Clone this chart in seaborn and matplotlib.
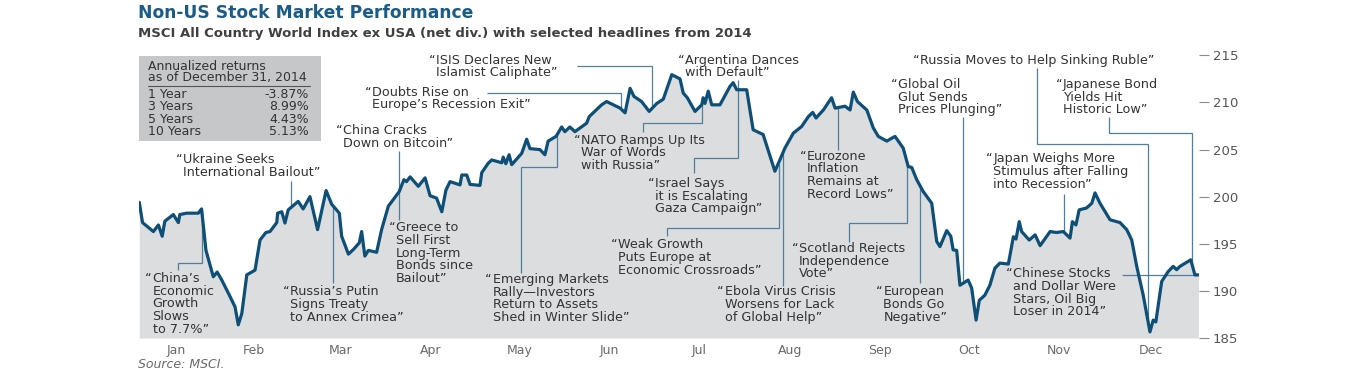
import matplotlib
matplotlib.use('Agg')
import matplotlib.pyplot as plt
from matplotlib.patches import Rectangle
from matplotlib.lines import Line2D
import seaborn as sns

sns.set_theme(style='white')
plt.rcParams['font.family'] = ['DejaVu Sans']

# MSCI ACWI ex USA (net div.); x = day of year (Jan 1 = 0)
days = [5.9, 7.0, 10.7, 12.4, 13.7, 14.6, 17.5, 19.2, 19.7, 22.0, 26.0, 27.1,
        28.6, 31.1, 32.4, 33.9, 36.8, 38.5, 39.6, 40.8, 42.5, 45.3, 47.0, 49.0,
        50.4, 52.7, 53.0, 54.4, 55.5, 56.6, 60.0, 61.7, 64.0, 66.6, 69.5, 71.4,
        74.0, 74.8, 77.1, 78.8, 80.8, 81.6, 82.7, 83.9, 86.7, 88.4, 90.7, 92.4,
        94.4, 96.0, 96.9, 98.1, 100.9, 103.2, 104.9, 107.1, 108.9, 110.3, 111.7,
        115.1, 115.7, 117.4, 118.5, 121.9, 122.5, 124.7, 125.9, 129.3, 129.8,
        130.7, 131.8, 132.7, 136.1, 137.8, 138.9, 142.3, 144.0, 145.1, 147.8,
        149.7, 150.8, 152.5, 154.2, 158.2, 159.1, 163.3, 165.0, 167.3, 169.6,
        171.3, 173.0, 174.3, 176.9, 179.5, 182.1, 184.3, 187.2, 190.0, 191.1,
        192.5, 195.1, 197.4, 197.9, 198.5, 199.6, 200.8, 203.6, 207.0, 208.1,
        209.3, 212.7, 214.9, 218.3, 222.3, 224.0, 225.7, 228.6, 231.4, 233.7,
        235.2, 236.3, 238.8, 241.6, 242.8, 246.2, 247.9, 249.0, 250.4, 253.6,
        255.8, 257.5, 260.4, 263.2, 266.0, 267.7, 268.9, 270.6, 272.8, 275.7,
        277.4, 278.5, 280.8, 282.2, 283.0, 284.2, 285.3, 288.1, 289.3, 290.8,
        291.9, 293.8, 295.5, 297.2, 298.9, 301.8, 303.5, 304.4, 305.5, 306.3,
        308.9, 310.9, 312.6, 316.0, 318.2, 320.5, 322.8, 323.6, 324.8, 325.9,
        328.4, 330.2, 331.3, 333.0, 336.4, 339.8, 342.1, 343.8, 345.5, 347.7,
        350.0, 351.1, 352.0, 354.0, 356.2, 357.9, 359.1, 360.2, 363.9, 365.3,
        366.5]
index_level = [199.4, 197.25, 196.3, 197.0, 195.8, 197.4, 198.1, 197.25, 198.1,
               198.25, 198.25, 198.7, 194.3, 191.5, 192.0, 191.2, 189.4, 188.3,
               186.4, 187.6, 191.7, 192.2, 195.4, 196.2, 196.3, 197.25, 198.25,
               198.4, 197.2, 198.6, 199.5, 198.7, 200.0, 196.5, 200.65, 199.2,
               198.25, 195.8, 193.9, 194.4, 195.1, 196.3, 193.7, 194.3, 194.1,
               196.5, 199.0, 199.7, 200.55, 201.8, 201.6, 202.1, 201.1, 202.0,
               200.1, 199.85, 198.4, 200.7, 201.6, 201.25, 202.3, 202.3, 201.3,
               201.2, 202.55, 203.55, 203.9, 203.6, 204.2, 203.5, 204.45, 203.4,
               204.6, 206.1, 205.1, 205.0, 204.45, 205.9, 206.4, 207.4, 206.9,
               207.4, 206.9, 207.8, 208.5, 209.75, 210.1, 209.75, 209.4, 208.9,
               211.5, 210.65, 210.1, 209.05, 209.9, 210.35, 212.95, 212.5, 211.0,
               210.5, 209.05, 209.75, 210.5, 209.9, 211.2, 209.75, 209.75, 211.7,
               212.1, 211.35, 211.35, 207.1, 206.6, 202.7, 203.9, 205.15, 206.75,
               207.45, 208.5, 208.95, 208.35, 209.2, 210.5, 209.4, 209.6, 209.2,
               211.1, 210.1, 209.2, 207.3, 206.4, 205.9, 206.4, 205.15, 203.2,
               203.1, 201.8, 200.55, 199.3, 195.25, 194.7, 196.4, 195.8, 194.35,
               194.3, 190.6, 191.15, 190.3, 186.9, 189.0, 189.55, 190.6, 192.4,
               192.95, 192.85, 195.75, 195.5, 197.35, 196.3, 195.4, 195.95, 194.8,
               196.3, 196.2, 196.3, 195.6, 197.35, 197.0, 198.6, 198.8, 199.3,
               200.4, 199.3, 197.55, 197.25, 196.5, 195.4, 192.6, 189.55, 185.65,
               186.9, 186.7, 191.0, 192.05, 192.6, 192.25, 192.6, 193.3, 191.7,
               191.7]

months = ['Jan', 'Feb', 'Mar', 'Apr', 'May', 'Jun',
          'Jul', 'Aug', 'Sep', 'Oct', 'Nov', 'Dec']
month_starts = [31, 59, 90, 120, 151, 181, 212, 243, 273, 304, 334]
y_ticks = [185, 190, 195, 200, 205, 210, 215]

return_periods = ['1 Year', '3 Years', '5 Years', '10 Years']
return_values = ['-3.87%', '8.99%', '4.43%', '5.13%']

# headline text, position of first line (day, level), leader line path
headlines = [
    (['Ukraine Seeks', 'International Bailout”'], (20.9, 203.9),
     [(57.5, 201.7), (57.5, 198.8)]),
    (['China’s', 'Economic', 'Growth', 'Slows', 'to 7.7%”'], (10.4, 191.3),
     [(19.0, 192.2), (19.0, 193.0), (27.1, 193.0), (27.1, 198.6)]),
    (['Russia’s Putin', 'Signs Treaty', 'to Annex Crimea”'], (57.2, 189.9),
     [(71.9, 190.8), (71.9, 199.0)]),
    (['China Cracks', 'Down on Bitcoin”'], (75.2, 207.0),
     [(94.4, 204.8), (94.4, 197.5)]),
    (['Greece to', 'Sell First', 'Long-Term', 'Bonds since', 'Bailout”'], (93.2, 196.7), []),
    (['ISIS Declares New', 'Islamist Caliphate”'], (106.9, 214.5),
     [(154.8, 213.9), (180.4, 213.9), (180.4, 209.3)]),
    (['Doubts Rise on', 'Europe’s Recession Exit”'], (85.1, 211.1),
     [(124.2, 211.0), (169.8, 211.0), (169.8, 209.4)]),
    (['NATO Ramps Up Its', 'War of Words', 'with Russia”'], (156.3, 206.0),
     [(177.3, 206.9), (177.3, 207.8), (197.6, 207.8), (197.6, 210.0)]),
    (['Argentina Dances', 'with Default”'], (191.6, 214.5),
     [(209.8, 212.4), (209.8, 204.1), (194.9, 204.1), (194.9, 202.5)]),
    (['Israel Says', 'it is Escalating', 'Gaza Campaign”'], (181.5, 201.4), []),
    (['Weak Growth', 'Puts Europe at', 'Economic Crossroads”'], (169.0, 194.9),
     [(185.5, 195.8), (185.5, 196.7), (223.8, 196.7), (223.8, 203.5)]),
    (['Emerging Markets', 'Rally—Investors', 'Return to Assets', 'Shed in Winter Slide”'],
     (126.2, 191.2), [(135.7, 191.9), (135.7, 203.2), (148.2, 203.2), (148.2, 206.6)]),
    (['Ebola Virus Crisis', 'Worsens for Lack', 'of Global Help”'], (205.2, 189.9),
     [(225.2, 190.5), (225.2, 205.0)]),
    (['Eurozone', 'Inflation', 'Remains at', 'Record Lows”'], (233.2, 204.3),
     [(243.9, 205.0), (243.9, 209.4)]),
    (['Scotland Rejects', 'Independence', 'Vote”'], (230.5, 194.5),
     [(247.6, 195.2), (247.6, 197.25), (267.2, 197.25), (267.2, 203.7)]),
    (['European', 'Bonds Go', 'Negative”'], (259.2, 189.9),
     [(271.7, 190.8), (271.7, 201.2)]),
    (['Global Oil', 'Glut Sends', 'Prices Plunging”'], (264.2, 211.9),
     [(286.4, 208.45), (286.4, 190.7)]),
    (['Russia Moves to Help Sinking Ruble”'], (271.7, 214.5),
     [(311.6, 213.7), (311.6, 205.6), (349.4, 205.6), (349.4, 186.6)]),
    (['Japanese Bond', 'Yields Hit', 'Historic Low”'], (320.4, 211.9),
     [(336.2, 208.45), (336.2, 206.75), (364.2, 206.75), (364.2, 193.0)]),
    (['Japan Weighs More', 'Stimulus after Falling', 'into Recession”'], (296.7, 204.0),
     [(320.8, 200.3), (320.8, 196.2)]),
    (['Chinese Stocks', 'and Dollar Were', 'Stars, Oil Big', 'Loser in 2014”'],
     (303.3, 191.8), [(340.4, 191.7), (366.5, 191.7)]),
]

line_color = '#0e4f77'
leader_color = '#4f7f9c'
fill_color = '#dcdddf'
text_color = '#333333'
title_color = '#1b5c87'
head_size = 9.2

fig = plt.figure(figsize=(13.5, 3.75), dpi=100)
ax = fig.add_axes([139 / 1350, 1 - 338 / 375, 1060 / 1350, 293 / 375])

ax.fill_between(days, index_level, 185, color=fill_color, lw=0, zorder=1)
sns.lineplot(x=days, y=index_level, ax=ax, color=line_color, lw=2.3,
             sort=False, zorder=4)

for lines, (tx, ty), path in headlines:
    ax.annotate('“', xy=(tx, ty), xytext=(-0.5, 0), textcoords='offset points',
                ha='right', va='center', fontsize=head_size, color=text_color, zorder=5)
    for i, line in enumerate(lines):
        ax.annotate(line, xy=(tx, ty), xytext=(0, -9.1 * i), textcoords='offset points',
                    ha='left', va='center', fontsize=head_size, color=text_color, zorder=5)
    if path:
        px, py = zip(*path)
        ax.plot(px, py, color=leader_color, lw=0.9, zorder=3,
                solid_joinstyle='miter', solid_capstyle='butt')

ax.set_xlim(5.8, 366.7)
ax.set_ylim(185, 216.1)

# month boundaries as small inward ticks, labels centred in each month
ax.set_xticks(month_starts)
ax.set_xticklabels([])
bounds = [5.8] + month_starts + [366.7]
ax.set_xticks([(a + b) / 2 for a, b in zip(bounds[:-1], bounds[1:])], minor=True)
ax.set_xticklabels(months, minor=True)
ax.tick_params(axis='x', which='major', direction='in', length=5, width=1.1,
               color='#707070', bottom=True)
ax.tick_params(axis='x', which='minor', length=0, pad=4, labelsize=9,
               labelcolor='#6a6a6a')

ax.yaxis.tick_right()
ax.set_yticks(y_ticks)
ax.tick_params(axis='y', which='major', direction='out', length=7, width=0.8,
               color='#8a8a8a', right=True, pad=3, labelsize=9.5,
               labelcolor='#555555')
ax.set_xlabel('')
ax.set_ylabel('')
ax.grid(False)
sns.despine(ax=ax, top=True, bottom=True, left=True, right=True)
ax.set_facecolor('none')

# returns box
fig.patches.append(Rectangle((139 / 1350, 1 - 141 / 375), 182 / 1350, 85 / 375,
                             transform=fig.transFigure, color='#c6c7c9', lw=0, zorder=0))
box_size = 9.0
fig.text(148 / 1350, 1 - 66.5 / 375, 'Annualized returns', fontsize=box_size,
         color=text_color, va='center')
fig.text(148 / 1350, 1 - 77.5 / 375, 'as of December 31, 2014', fontsize=box_size,
         color=text_color, va='center')
fig.lines.append(Line2D([148 / 1350, 310 / 1350], [1 - 85.5 / 375, 1 - 85.5 / 375],
                        transform=fig.transFigure, color='#555555', lw=0.8))
for i, (period, val) in enumerate(zip(return_periods, return_values)):
    yy = 1 - (94.5 + 12.4 * i) / 375
    fig.text(148 / 1350, yy, period, fontsize=box_size, color=text_color, va='center')
    fig.text(309 / 1350, yy, val, fontsize=box_size, color=text_color, va='center', ha='right')

fig.text(138 / 1350, 1 - 13 / 375, 'Non-US Stock Market Performance', fontsize=12.3,
         color=title_color, va='center', fontweight='semibold')
fig.text(138 / 1350, 1 - 33 / 375,
         'MSCI All Country World Index ex USA (net div.) with selected headlines from 2014',
         fontsize=9.5, color='#404040', va='center', fontweight='semibold')
fig.text(138 / 1350, 1 - 365 / 375, 'Source: MSCI.', fontsize=9, color='#6a6a6a',
         va='center', style='italic')

fig.savefig('out.png', dpi=100)
